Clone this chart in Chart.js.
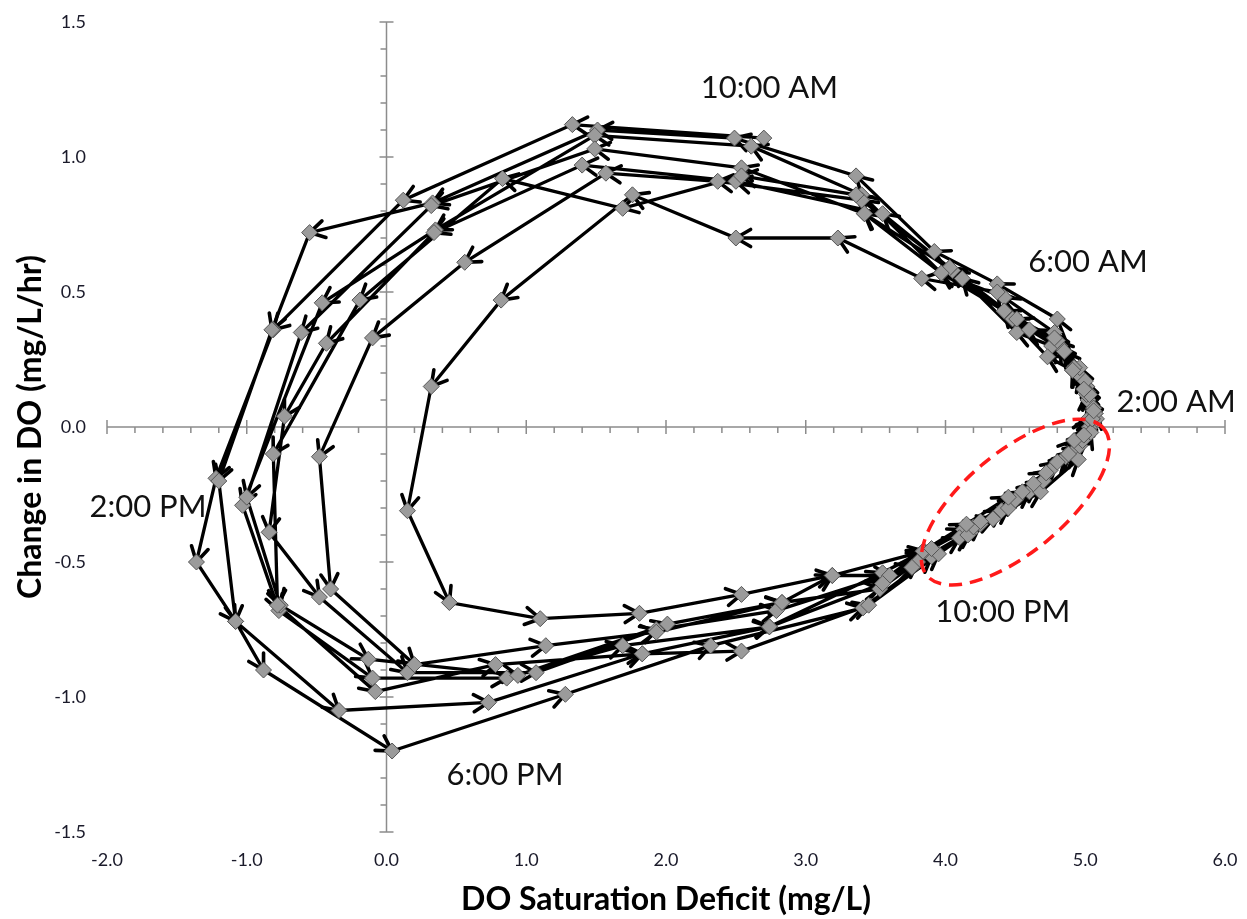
<!DOCTYPE html>
<html>
<head>
<meta charset="utf-8">
<script src="https://cdn.jsdelivr.net/npm/chart.js@4.4.0/dist/chart.umd.min.js"></script>
<style>
  html, body { margin: 0; padding: 0; background: #fff; }
  #wrap { width: 1247px; height: 919px; }
</style>
</head>
<body>
<div id="wrap"><canvas id="chart1" width="1247" height="919"></canvas></div>
<script>
// hourly readings [deficit mg/L, change mg/L/hr], each day runs 10:00 AM -> 9:00 AM
const day1 = [[2.70,1.07],[1.33,1.12],[0.12,0.84],[-0.81,0.36],[-1.22,-0.19],[-1.36,-0.50],[-1.08,-0.72],[-0.88,-0.90],[0.04,-1.20],[1.28,-0.99],[2.32,-0.81],[3.41,-0.67],[3.90,-0.48],[4.18,-0.39],[4.60,-0.24],[4.86,-0.11],[5.06,0.01],[5.07,0.05],[5.02,0.10],[4.96,0.19],[4.80,0.40],[4.37,0.53],[3.92,0.65],[3.36,0.93]];
const day2 = [[2.49,1.07],[1.51,1.10],[0.33,0.83],[-0.55,0.72],[-0.82,0.36],[-1.20,-0.20],[-1.08,-0.72],[-0.34,-1.05],[0.73,-1.02],[1.83,-0.84],[2.54,-0.83],[3.45,-0.66],[3.95,-0.47],[4.25,-0.36],[4.65,-0.22],[4.92,-0.09],[5.03,0.00],[5.08,0.03],[5.02,0.10],[4.91,0.21],[4.78,0.35],[4.42,0.48],[3.97,0.57],[3.40,0.86]];
const day3 = [[2.61,1.04],[1.49,1.08],[0.35,0.73],[-0.46,0.46],[-1.03,-0.29],[-0.77,-0.68],[-0.10,-0.93],[0.86,-0.93],[1.69,-0.81],[2.74,-0.74],[3.55,-0.54],[3.84,-0.46],[4.13,-0.38],[4.34,-0.34],[4.68,-0.24],[4.95,-0.12],[5.04,-0.02],[5.06,0.07],[5.01,0.15],[4.82,0.30],[4.48,0.40],[4.05,0.58],[3.42,0.79]];
const day4 = [[2.54,0.96],[1.49,1.03],[0.32,0.82],[-0.61,0.35],[-1.00,-0.26],[-0.76,-0.66],[-0.13,-0.86],[0.94,-0.92],[2.01,-0.73],[2.83,-0.65],[3.53,-0.60],[3.80,-0.50],[4.10,-0.41],[4.40,-0.31],[4.70,-0.20],[4.88,-0.10],[5.02,0.03],[5.01,0.12],[4.96,0.19],[4.76,0.30],[4.51,0.35],[4.12,0.55],[3.55,0.79]];
const day5 = [[2.50,0.91],[1.40,0.97],[0.34,0.72],[-0.43,0.31],[-0.73,0.04],[-0.84,-0.39],[-0.48,-0.63],[0.15,-0.91],[1.07,-0.91],[1.93,-0.75],[2.79,-0.68],[3.76,-0.52],[4.16,-0.40],[4.45,-0.30],[4.63,-0.21],[4.96,-0.07],[5.05,0.03],[5.02,0.13],[4.96,0.22],[4.80,0.32],[4.42,0.43],[4.03,0.59],[3.40,0.84]];
const day6 = [[2.37,0.91],[1.57,0.94],[0.56,0.61],[-0.10,0.33],[-0.48,-0.11],[-0.40,-0.60],[0.20,-0.88],[1.14,-0.81],[1.93,-0.76],[2.83,-0.65],[3.19,-0.55],[3.85,-0.46],[4.20,-0.37],[4.50,-0.27],[4.75,-0.16],[4.98,-0.05],[5.07,0.05],[5.00,0.17],[4.85,0.28],[4.60,0.36],[4.37,0.50],[3.83,0.55],[3.23,0.70]];
const day7 = [[2.50,0.70],[1.76,0.86],[0.82,0.47],[0.32,0.15],[0.15,-0.31],[0.45,-0.65],[1.10,-0.71],[1.81,-0.69],[2.54,-0.62],[3.19,-0.55],[3.60,-0.55],[3.84,-0.46],[4.15,-0.36],[4.45,-0.26],[4.72,-0.17],[4.92,-0.05],[5.05,0.03],[5.03,0.12],[4.92,0.22],[4.78,0.33],[4.51,0.40],[4.03,0.59],[3.36,0.86]];
const day8 = [[2.54,0.93],[1.69,0.81],[0.83,0.92],[-0.19,0.47],[-0.81,-0.10],[-0.78,-0.66],[-0.08,-0.98],[0.78,-0.88],[1.83,-0.84],[2.74,-0.74],[3.55,-0.58],[3.90,-0.45],[4.25,-0.35],[4.55,-0.24],[4.80,-0.13],[4.99,-0.03],[5.06,0.06],[4.99,0.14],[4.91,0.21],[4.73,0.26],[4.42,0.43],[3.97,0.57],[3.42,0.79]];

const days = [day1, day2, day3, day4, day5, day6, day7, day8];

const timeLabels = ['10:00 AM', '6:00 AM', '2:00 AM', '2:00 PM', '10:00 PM', '6:00 PM'];

const path = days.flat().map(([x, y]) => ({ x, y }));

// axes cross at the origin, tick labels stay on the outer edges
const crossAxes = {
  id: 'crossAxes',
  beforeDatasetsDraw(chart) {
    const { ctx, scales: { x, y } } = chart;
    const x0 = x.getPixelForValue(0), y0 = y.getPixelForValue(0);
    ctx.save();
    ctx.strokeStyle = '#8c8c8c';
    ctx.lineWidth = 1.5;
    ctx.beginPath();
    ctx.moveTo(x.left, y0); ctx.lineTo(x.right, y0);
    ctx.moveTo(x0, y.top); ctx.lineTo(x0, y.bottom);
    for (let k = 0; k <= 40; k++) {
      const px = x.getPixelForValue(-2 + k * 0.2);
      if (k % 5 === 0) { ctx.moveTo(px, y0 - 7); ctx.lineTo(px, y0 + 7); }
      else { ctx.moveTo(px, y0); ctx.lineTo(px, y0 + 6); }
    }
    for (let k = 0; k <= 30; k++) {
      const py = y.getPixelForValue(-1.5 + k * 0.1);
      if (k % 5 === 0) { ctx.moveTo(x0 - 7, py); ctx.lineTo(x0 + 7, py); }
      else { ctx.moveTo(x0 - 6, py); ctx.lineTo(x0, py); }
    }
    ctx.stroke();
    ctx.restore();
  }
};

// open arrow head at the end of every segment
const arrowHeads = {
  id: 'arrowHeads',
  afterDatasetDraw(chart, args) {
    if (args.index !== 1) return;
    const pts = args.meta.data;
    const ctx = chart.ctx;
    const len = 17, spread = Math.PI / 6;
    ctx.save();
    ctx.strokeStyle = '#000';
    ctx.lineWidth = 3.6;
    ctx.lineCap = 'round';
    ctx.lineJoin = 'round';
    for (let i = 1; i < pts.length; i++) {
      const a = pts[i - 1], b = pts[i];
      const ang = Math.atan2(b.y - a.y, b.x - a.x);
      ctx.beginPath();
      ctx.moveTo(b.x - len * Math.cos(ang - spread), b.y - len * Math.sin(ang - spread));
      ctx.lineTo(b.x, b.y);
      ctx.lineTo(b.x - len * Math.cos(ang + spread), b.y - len * Math.sin(ang + spread));
      ctx.stroke();
    }
    ctx.restore();
  }
};

// time-of-day notes and the dashed ring round the night segment
const notes = {
  id: 'notes',
  afterDatasetsDraw(chart, args, opts) {
    const { ctx, scales: { x, y } } = chart;
    ctx.save();
    ctx.strokeStyle = '#ff1a1a';
    ctx.lineWidth = 3.5;
    ctx.setLineDash([13, 8]);
    ctx.beginPath();
    ctx.ellipse(x.getPixelForValue(opts.ring.x), y.getPixelForValue(opts.ring.y),
      opts.ring.rx, opts.ring.ry, opts.ring.rot, 0, Math.PI * 2);
    ctx.stroke();
    ctx.setLineDash([]);
    ctx.fillStyle = '#111';
    ctx.font = '31px Lato';
    ctx.textAlign = 'center';
    ctx.textBaseline = 'middle';
    timeLabels.forEach((t, i) => {
      const [vx, vy] = opts.spots[i];
      ctx.fillText(t, x.getPixelForValue(vx), y.getPixelForValue(vy));
    });
    ctx.restore();
  }
};

new Chart(document.getElementById('chart1'), {
  type: 'scatter',
  data: {
    datasets: [
      {
        label: 'readings',
        data: path,
        showLine: false,
        pointStyle: 'rectRot',
        pointRadius: 8,
        backgroundColor: '#9b9b9b',
        borderColor: '#555',
        borderWidth: 1,
        order: 0
      },
      {
        label: 'path',
        data: path,
        showLine: true,
        borderColor: '#000',
        borderWidth: 3.3,
        pointRadius: 0,
        tension: 0,
        order: 1
      }
    ]
  },
  options: {
    responsive: false,
    animation: false,
    layout: { padding: { top: 22, right: 22, left: 0, bottom: 0 } },
    plugins: {
      legend: { display: false },
      tooltip: { enabled: false },
      notes: {
        spots: [[2.74, 1.256], [5.02, 0.611], [5.65, 0.093], [-1.707, -0.296], [4.41, -0.685], [0.848, -1.289]],
        ring: { x: 4.50, y: -0.278, rx: 115, ry: 50, rot: -39.7 * Math.PI / 180 }
      }
    },
    scales: {
      x: {
        type: 'linear',
        min: -2, max: 6,
        grid: { display: false, drawTicks: false },
        border: { display: false },
        ticks: {
          stepSize: 1,
          padding: 17,
          color: '#1a1a2a',
          font: { family: 'Lato', size: 18 },
          callback: v => v.toFixed(1)
        },
        title: {
          display: true,
          text: 'DO Saturation Deficit (mg/L)',
          color: '#000',
          font: { family: 'Lato', size: 32, weight: 'bold' },
          padding: { top: 0, bottom: 0 }
        },
        afterFit: s => { s.height = 87; s.paddingLeft = 0; s.paddingRight = 0; }
      },
      y: {
        min: -1.5, max: 1.5,
        grid: { display: false, drawTicks: false },
        border: { display: false },
        ticks: {
          stepSize: 0.5,
          padding: 21,
          color: '#1a1a2a',
          font: { family: 'Lato', size: 18 },
          callback: v => v.toFixed(1)
        },
        title: {
          display: true,
          text: 'Change in DO (mg/L/hr)',
          color: '#000',
          font: { family: 'Lato', size: 32, weight: 'bold' },
          padding: { top: 11, bottom: 0 }
        },
        afterFit: s => { s.width = 107; s.paddingTop = 0; s.paddingBottom = 0; }
      }
    }
  },
  plugins: [crossAxes, arrowHeads, notes]
});
</script>
</body>
</html>
